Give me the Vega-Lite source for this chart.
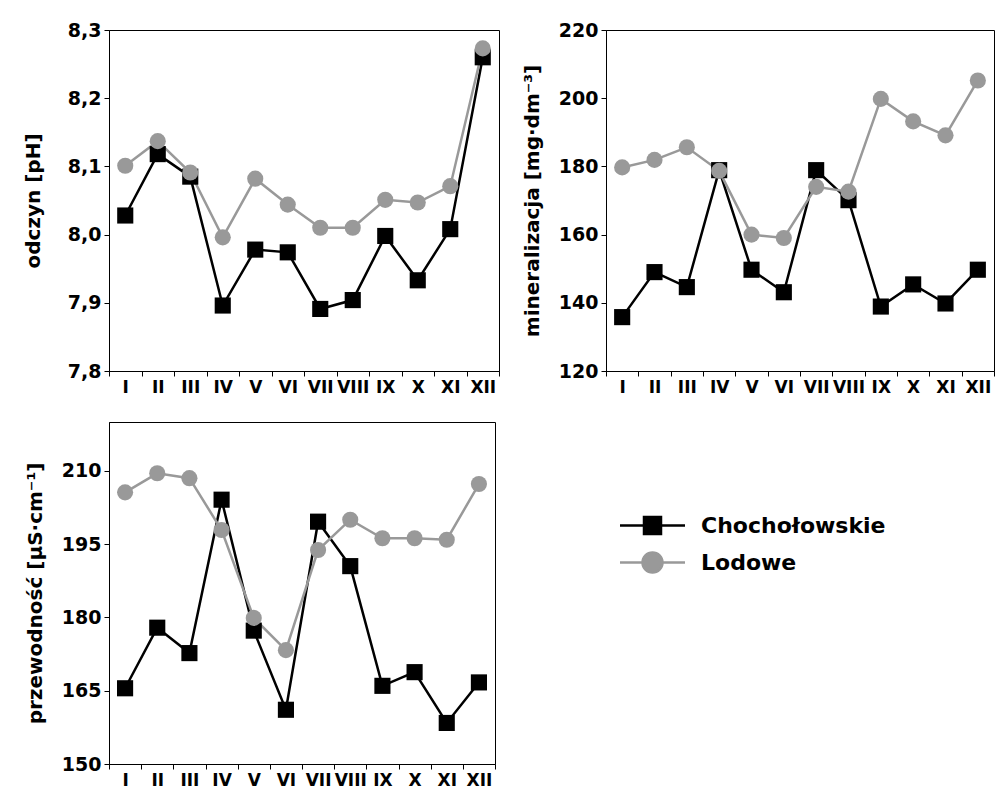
{
  "$schema": "https://vega.github.io/schema/vega-lite/v6.json",
  "padding": {"left": 22, "top": 20, "right": 0, "bottom": 0},
  "background": "white",
  "datasets": {
    "ph": [
      {"m": "I", "s": "Chochołowskie", "v": 8.028}, {"m": "II", "s": "Chochołowskie", "v": 8.118},
      {"m": "III", "s": "Chochołowskie", "v": 8.085}, {"m": "IV", "s": "Chochołowskie", "v": 7.896},
      {"m": "V", "s": "Chochołowskie", "v": 7.978}, {"m": "VI", "s": "Chochołowskie", "v": 7.974},
      {"m": "VII", "s": "Chochołowskie", "v": 7.891}, {"m": "VIII", "s": "Chochołowskie", "v": 7.904},
      {"m": "IX", "s": "Chochołowskie", "v": 7.998}, {"m": "X", "s": "Chochołowskie", "v": 7.933},
      {"m": "XI", "s": "Chochołowskie", "v": 8.008}, {"m": "XII", "s": "Chochołowskie", "v": 8.26},
      {"m": "I", "s": "Lodowe", "v": 8.101}, {"m": "II", "s": "Lodowe", "v": 8.137},
      {"m": "III", "s": "Lodowe", "v": 8.091}, {"m": "IV", "s": "Lodowe", "v": 7.996},
      {"m": "V", "s": "Lodowe", "v": 8.082}, {"m": "VI", "s": "Lodowe", "v": 8.044},
      {"m": "VII", "s": "Lodowe", "v": 8.01}, {"m": "VIII", "s": "Lodowe", "v": 8.01},
      {"m": "IX", "s": "Lodowe", "v": 8.051}, {"m": "X", "s": "Lodowe", "v": 8.047},
      {"m": "XI", "s": "Lodowe", "v": 8.071}, {"m": "XII", "s": "Lodowe", "v": 8.273}
    ],
    "min": [
      {"m": "I", "s": "Chochołowskie", "v": 135.8}, {"m": "II", "s": "Chochołowskie", "v": 149.0},
      {"m": "III", "s": "Chochołowskie", "v": 144.6}, {"m": "IV", "s": "Chochołowskie", "v": 178.9},
      {"m": "V", "s": "Chochołowskie", "v": 149.7}, {"m": "VI", "s": "Chochołowskie", "v": 143.1},
      {"m": "VII", "s": "Chochołowskie", "v": 178.9}, {"m": "VIII", "s": "Chochołowskie", "v": 170.1},
      {"m": "IX", "s": "Chochołowskie", "v": 138.9}, {"m": "X", "s": "Chochołowskie", "v": 145.4},
      {"m": "XI", "s": "Chochołowskie", "v": 139.8}, {"m": "XII", "s": "Chochołowskie", "v": 149.7},
      {"m": "I", "s": "Lodowe", "v": 179.7}, {"m": "II", "s": "Lodowe", "v": 181.9},
      {"m": "III", "s": "Lodowe", "v": 185.6}, {"m": "IV", "s": "Lodowe", "v": 178.7},
      {"m": "V", "s": "Lodowe", "v": 160.0}, {"m": "VI", "s": "Lodowe", "v": 159.0},
      {"m": "VII", "s": "Lodowe", "v": 174.0}, {"m": "VIII", "s": "Lodowe", "v": 172.6},
      {"m": "IX", "s": "Lodowe", "v": 199.8}, {"m": "X", "s": "Lodowe", "v": 193.2},
      {"m": "XI", "s": "Lodowe", "v": 189.1}, {"m": "XII", "s": "Lodowe", "v": 205.2}
    ],
    "cond": [
      {"m": "I", "s": "Chochołowskie", "v": 165.5}, {"m": "II", "s": "Chochołowskie", "v": 177.9},
      {"m": "III", "s": "Chochołowskie", "v": 172.7}, {"m": "IV", "s": "Chochołowskie", "v": 204.1},
      {"m": "V", "s": "Chochołowskie", "v": 177.3}, {"m": "VI", "s": "Chochołowskie", "v": 161.1},
      {"m": "VII", "s": "Chochołowskie", "v": 199.6}, {"m": "VIII", "s": "Chochołowskie", "v": 190.5},
      {"m": "IX", "s": "Chochołowskie", "v": 166.0}, {"m": "X", "s": "Chochołowskie", "v": 168.8},
      {"m": "XI", "s": "Chochołowskie", "v": 158.4}, {"m": "XII", "s": "Chochołowskie", "v": 166.7},
      {"m": "I", "s": "Lodowe", "v": 205.6}, {"m": "II", "s": "Lodowe", "v": 209.5},
      {"m": "III", "s": "Lodowe", "v": 208.5}, {"m": "IV", "s": "Lodowe", "v": 197.9},
      {"m": "V", "s": "Lodowe", "v": 179.9}, {"m": "VI", "s": "Lodowe", "v": 173.3},
      {"m": "VII", "s": "Lodowe", "v": 193.8}, {"m": "VIII", "s": "Lodowe", "v": 200.0},
      {"m": "IX", "s": "Lodowe", "v": 196.2}, {"m": "X", "s": "Lodowe", "v": 196.2},
      {"m": "XI", "s": "Lodowe", "v": 195.9}, {"m": "XII", "s": "Lodowe", "v": 207.3}
    ]
  },
  "concat": [
    {
      "width": 390, "height": 341,
      "data": {"name": "ph"},
      "encoding": {
        "x": {"field": "m", "type": "ordinal", "sort": ["I","II","III","IV","V","VI","VII","VIII","IX","X","XI","XII"],
              "scale": {"type": "band", "paddingInner": 0, "paddingOuter": 0},
              "axis": {"title": null, "tickBand": "extent", "labelAngle": 0}},
        "y": {"field": "v", "type": "quantitative", "scale": {"domain": [7.8, 8.3], "nice": false, "zero": false},
              "axis": {"title": "odczyn [pH]", "titlePadding": 24, "values": [7.8, 7.9, 8.0, 8.1, 8.2, 8.3], "labelExpr": "replace(format(datum.value, '.1f'), '.', ',')"}}
      },
      "layer": [
        {"mark": {"type": "line", "strokeWidth": 2.5},
         "encoding": {"color": {"field": "s", "type": "nominal", "scale": {"domain": ["Chochołowskie", "Lodowe"], "range": ["#000000", "#999999"]},
                  "legend": {"orient": "none", "legendX": 532, "legendY": 484, "title": null, "labelLimit": 400,
                             "encode": {"symbols": {"update": {
                               "shape": {"signal": "datum.value === 'Lodowe' ? 'M-3.25,0H3.25M1,0A1,1,0,1,1,-1,0A1,1,0,1,1,1,0Z' : 'M-3.25,0H3.25M-0.85,-0.85H0.85V0.85H-0.85Z'"},
                               "fill": {"signal": "datum.value === 'Lodowe' ? '#999999' : '#000000'"},
                               "stroke": {"signal": "datum.value === 'Lodowe' ? '#999999' : '#000000'"},
                               "strokeWidth": {"value": 2.5},
                               "opacity": {"value": 1}, "fillOpacity": {"value": 1}, "strokeOpacity": {"value": 1}}}}}}}},
        {"transform": [{"filter": "datum.s === 'Chochołowskie'"}],
         "mark": {"type": "point", "shape": "square", "filled": true, "opacity": 1, "size": 260, "color": "#000000"}},
        {"transform": [{"filter": "datum.s === 'Lodowe'"}],
         "mark": {"type": "point", "shape": "circle", "filled": true, "opacity": 1, "size": 260, "color": "#999999"}}
      ]
    },
    {
      "width": 388, "height": 341,
      "data": {"name": "min"},
      "encoding": {
        "x": {"field": "m", "type": "ordinal", "sort": ["I","II","III","IV","V","VI","VII","VIII","IX","X","XI","XII"],
              "scale": {"type": "band", "paddingInner": 0, "paddingOuter": 0},
              "axis": {"title": null, "tickBand": "extent", "labelAngle": 0}},
        "y": {"field": "v", "type": "quantitative", "scale": {"domain": [120, 220], "nice": false, "zero": false},
              "axis": {"title": "mineralizacja [mg·dm⁻³]", "values": [120, 140, 160, 180, 200, 220]}}
      },
      "layer": [
        {"mark": {"type": "line", "strokeWidth": 2.5},
         "encoding": {"color": {"field": "s", "type": "nominal", "scale": {"domain": ["Chochołowskie", "Lodowe"], "range": ["#000000", "#999999"]},
                  "legend": {"orient": "none", "legendX": 532, "legendY": 484, "title": null, "labelLimit": 400,
                             "encode": {"symbols": {"update": {
                               "shape": {"signal": "datum.value === 'Lodowe' ? 'M-3.25,0H3.25M1,0A1,1,0,1,1,-1,0A1,1,0,1,1,1,0Z' : 'M-3.25,0H3.25M-0.85,-0.85H0.85V0.85H-0.85Z'"},
                               "fill": {"signal": "datum.value === 'Lodowe' ? '#999999' : '#000000'"},
                               "stroke": {"signal": "datum.value === 'Lodowe' ? '#999999' : '#000000'"},
                               "strokeWidth": {"value": 2.5},
                               "opacity": {"value": 1}, "fillOpacity": {"value": 1}, "strokeOpacity": {"value": 1}}}}}}}},
        {"transform": [{"filter": "datum.s === 'Chochołowskie'"}],
         "mark": {"type": "point", "shape": "square", "filled": true, "opacity": 1, "size": 260, "color": "#000000"}},
        {"transform": [{"filter": "datum.s === 'Lodowe'"}],
         "mark": {"type": "point", "shape": "circle", "filled": true, "opacity": 1, "size": 260, "color": "#999999"}}
      ]
    },
    {
      "width": 386, "height": 342,
      "data": {"name": "cond"},
      "encoding": {
        "x": {"field": "m", "type": "ordinal", "sort": ["I","II","III","IV","V","VI","VII","VIII","IX","X","XI","XII"],
              "scale": {"type": "band", "paddingInner": 0, "paddingOuter": 0},
              "axis": {"title": null, "tickBand": "extent", "labelAngle": 0}},
        "y": {"field": "v", "type": "quantitative", "scale": {"domain": [150, 220], "nice": false, "zero": false},
              "axis": {"title": "przewodność [µS·cm⁻¹]", "values": [150, 165, 180, 195, 210]}}
      },
      "layer": [
        {"mark": {"type": "line", "strokeWidth": 2.5},
         "encoding": {"color": {"field": "s", "type": "nominal", "scale": {"domain": ["Chochołowskie", "Lodowe"], "range": ["#000000", "#999999"]},
                  "legend": {"orient": "none", "legendX": 532, "legendY": 484, "title": null, "labelLimit": 400,
                             "encode": {"symbols": {"update": {
                               "shape": {"signal": "datum.value === 'Lodowe' ? 'M-3.25,0H3.25M1,0A1,1,0,1,1,-1,0A1,1,0,1,1,1,0Z' : 'M-3.25,0H3.25M-0.85,-0.85H0.85V0.85H-0.85Z'"},
                               "fill": {"signal": "datum.value === 'Lodowe' ? '#999999' : '#000000'"},
                               "stroke": {"signal": "datum.value === 'Lodowe' ? '#999999' : '#000000'"},
                               "strokeWidth": {"value": 2.5},
                               "opacity": {"value": 1}, "fillOpacity": {"value": 1}, "strokeOpacity": {"value": 1}}}}}}}},
        {"transform": [{"filter": "datum.s === 'Chochołowskie'"}],
         "mark": {"type": "point", "shape": "square", "filled": true, "opacity": 1, "size": 260, "color": "#000000"}},
        {"transform": [{"filter": "datum.s === 'Lodowe'"}],
         "mark": {"type": "point", "shape": "circle", "filled": true, "opacity": 1, "size": 260, "color": "#999999"}}
      ]
    }
  ],
  "columns": 2,
  "spacing": {"row": 51, "column": 107},
  "bounds": "flush",
  "config": {
    "font": "DejaVu Sans",
    "view": {"stroke": "black", "strokeWidth": 1},
    "axis": {
      "labelFont": "DejaVu Sans", "labelFontWeight": "bold", "labelFontSize": 19, "labelColor": "black",
      "titleFont": "DejaVu Sans", "titleFontWeight": "bold", "titleFontSize": 20, "titleColor": "black",
      "domainColor": "black", "tickColor": "black", "tickSize": 5, "grid": false, "labelPadding": 3, "titlePadding": 16
    },
    "axisX": {"labelFontSize": 17},
    "legend": {
      "labelFont": "DejaVu Sans", "labelFontWeight": "bold", "labelFontSize": 22, "labelColor": "black",
      "symbolSize": 400, "symbolStrokeWidth": 2.5, "labelOffset": 37, "rowPadding": 8, "padding": 0,
      "symbolOpacity": 1, "labelLimit": 400
    }
  }
}
